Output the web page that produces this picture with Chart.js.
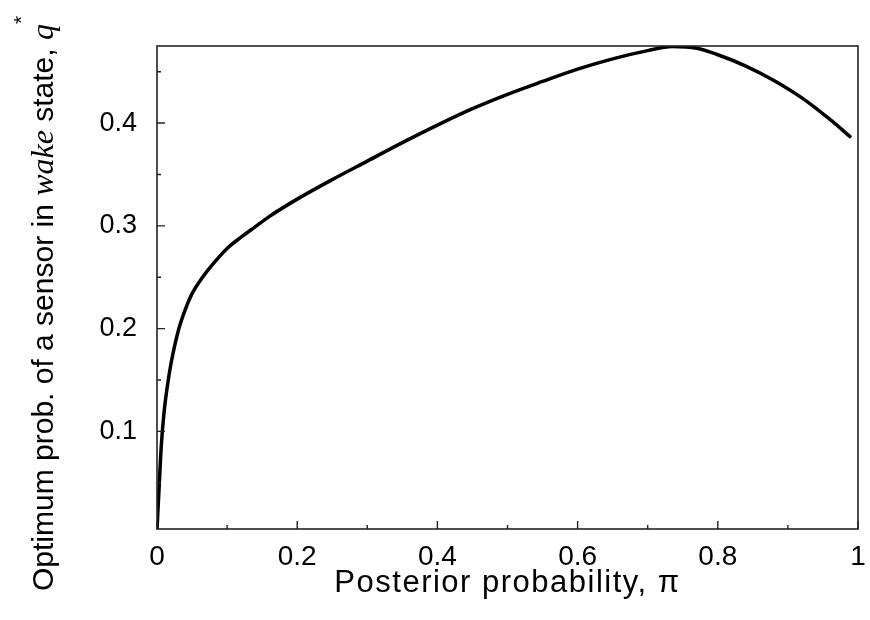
<!DOCTYPE html>
<html>
<head>
<meta charset="utf-8">
<script src="https://cdn.jsdelivr.net/npm/chart.js@4.4.1/dist/chart.umd.min.js"></script>
<style>
  body { margin: 0; background: #fff; }
  #wrap { width: 870px; height: 620px; }
</style>
</head>
<body>
<div id="wrap"><canvas id="qChart" width="870" height="620"></canvas></div>
<script>
// posterior probability (x) and optimum wake probability q* (y)
var piVals = [0, 0.003, 0.006, 0.01, 0.015, 0.02, 0.03, 0.04, 0.05, 0.065, 0.08, 0.1, 0.12, 0.14, 0.16,
  0.2, 0.25, 0.3, 0.35, 0.4, 0.45, 0.5, 0.55, 0.6, 0.65, 0.7, 0.735, 0.77, 0.8, 0.84, 0.88, 0.92, 0.96, 0.99];
var qVals = [0.005, 0.045, 0.085, 0.118, 0.145, 0.166, 0.197, 0.218, 0.234, 0.25, 0.263, 0.278, 0.289, 0.299, 0.309,
  0.326, 0.345, 0.363, 0.381, 0.398, 0.414, 0.428, 0.4405, 0.4525, 0.4625, 0.4705, 0.4745, 0.4728, 0.4665, 0.4555, 0.4415, 0.4245, 0.4035, 0.386];

var xTicks = [0, 0.2, 0.4, 0.6, 0.8, 1];
var xMinor = [0.1, 0.3, 0.5, 0.7, 0.9];
var yTicks = [0.1, 0.2, 0.3, 0.4];
var yMinor = [0.05, 0.15, 0.25, 0.35, 0.45];

var pts = piVals.map(function (v, i) { return { x: v, y: qVals[i] }; });

// frame, inward ticks and the axis titles
var framePlugin = {
  id: 'frame',
  afterDraw: function (chart) {
    var ctx = chart.ctx, a = chart.chartArea;
    var xs = chart.scales.x, ys = chart.scales.y;
    ctx.save();
    ctx.strokeStyle = '#222';
    ctx.lineWidth = 1.6;
    ctx.strokeRect(a.left, a.top, a.right - a.left, a.bottom - a.top);

    ctx.lineWidth = 1.4;
    ctx.beginPath();
    xTicks.forEach(function (v) { var p = xs.getPixelForValue(v); ctx.moveTo(p, a.bottom); ctx.lineTo(p, a.bottom - 8); });
    xMinor.forEach(function (v) { var p = xs.getPixelForValue(v); ctx.moveTo(p, a.bottom); ctx.lineTo(p, a.bottom - 4); });
    yTicks.forEach(function (v) { var p = ys.getPixelForValue(v); ctx.moveTo(a.left, p); ctx.lineTo(a.left + 8, p); });
    yMinor.forEach(function (v) { var p = ys.getPixelForValue(v); ctx.moveTo(a.left, p); ctx.lineTo(a.left + 4, p); });
    ctx.stroke();

    ctx.fillStyle = '#000';
    // x title
    ctx.font = '31px "Liberation Sans", Arial, sans-serif';
    ctx.letterSpacing = '1.5px';
    ctx.textAlign = 'center';
    ctx.textBaseline = 'alphabetic';
    ctx.fillText('Posterior probability, \u03c0', (a.left + a.right) / 2, 592);
    ctx.letterSpacing = '0px';

    // y title, mixed fonts
    var parts = [
      ['Optimum prob. of a sensor in ', '30px "Liberation Sans", Arial, sans-serif', 0],
      ['wake', 'italic 32px "Liberation Serif", "Times New Roman", serif', 0],
      [' state, ', '30px "Liberation Sans", Arial, sans-serif', 0],
      ['q', 'italic 32px "Liberation Serif", "Times New Roman", serif', 0],
      ['*', '21px "Liberation Sans", Arial, sans-serif', -25]
    ];
    ctx.translate(53, 591);
    ctx.rotate(-Math.PI / 2);
    ctx.textAlign = 'left';
    var pos = 0;
    parts.forEach(function (p) {
      ctx.font = p[1];
      ctx.fillText(p[0], pos, p[2]);
      pos += ctx.measureText(p[0]).width;
    });
    ctx.restore();
  }
};

new Chart('qChart', {
  type: 'line',
  data: {
    datasets: [{
      data: pts,
      borderColor: '#000',
      borderWidth: 3.5,
      pointRadius: 0,
      fill: false,
      cubicInterpolationMode: 'monotone'
    }]
  },
  options: {
    responsive: false,
    animation: false,
    layout: { padding: { left: 0, right: 12, top: 46, bottom: 0 } },
    plugins: { legend: { display: false }, tooltip: { enabled: false } },
    scales: {
      x: {
        type: 'linear',
        min: 0,
        max: 1,
        grid: { display: false, drawTicks: false },
        border: { display: false },
        afterBuildTicks: function (s) { s.ticks = xTicks.map(function (v) { return { value: v }; }); },
        afterFit: function (s) { s.height = 91; s.paddingLeft = 0; s.paddingRight = 0; },
        ticks: {
          padding: 11,
          color: '#000',
          maxRotation: 0,
          font: { family: '"Liberation Sans", Arial, sans-serif', size: 28 },
          callback: function (v) { return String(v); }
        }
      },
      y: {
        type: 'linear',
        min: 0.005,
        max: 0.475,
        grid: { display: false, drawTicks: false },
        border: { display: false },
        afterBuildTicks: function (s) { s.ticks = yTicks.map(function (v) { return { value: v }; }); },
        afterFit: function (s) { s.width = 157; s.paddingTop = 0; s.paddingBottom = 0; },
        ticks: {
          padding: 20,
          color: '#000',
          font: { family: '"Liberation Sans", Arial, sans-serif', size: 27 },
          callback: function (v) { return String(v); }
        }
      }
    }
  },
  plugins: [framePlugin]
});
</script>
</body>
</html>
